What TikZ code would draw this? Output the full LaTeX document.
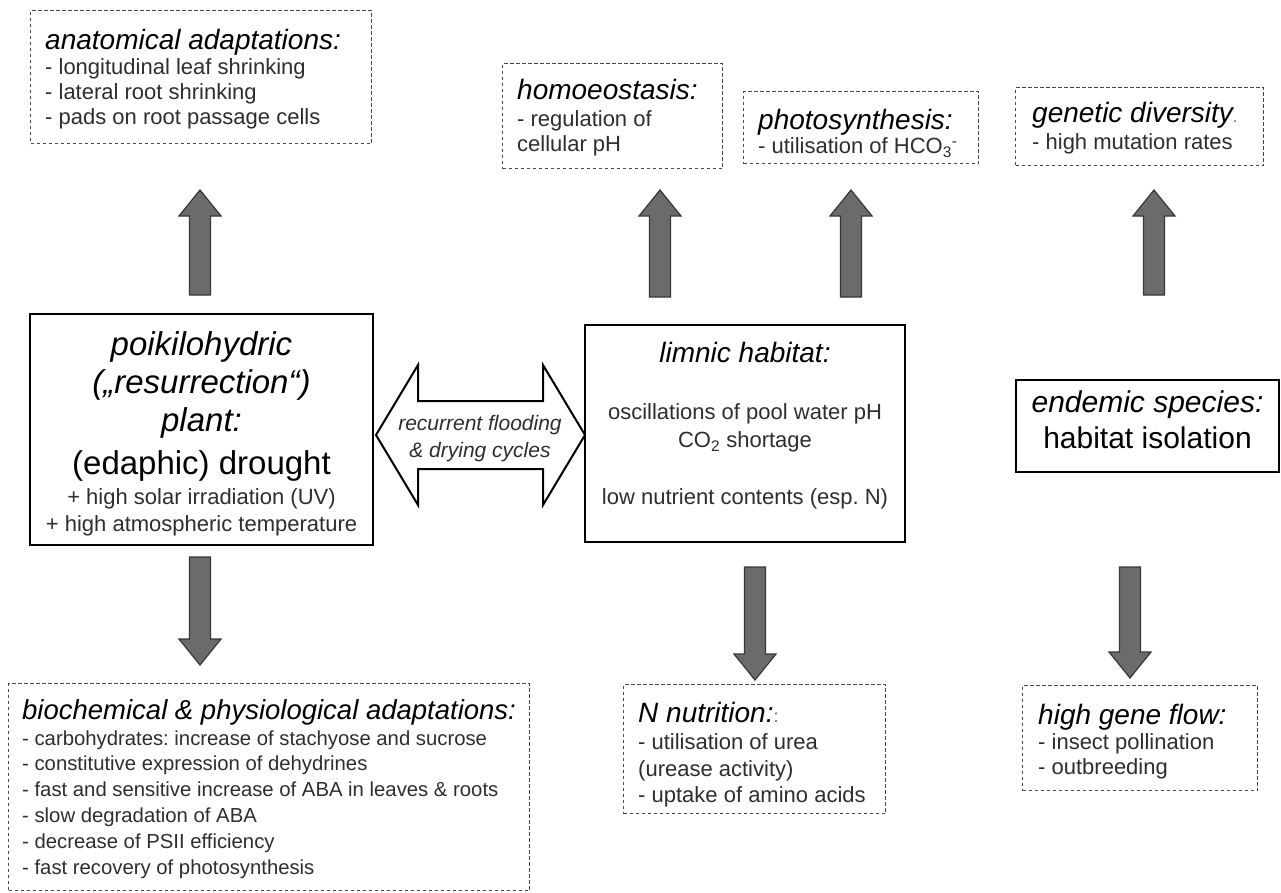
\documentclass[tikz,border=0pt]{standalone}
\usepackage{fontspec}
\setmainfont{Liberation Sans}
\usetikzlibrary{calc}
\setlength{\parindent}{0pt}
\frenchspacing
\newcommand\SP{\frenchspacing\spaceskip=0pt\xspaceskip=0pt\leftskip=0pt\rightskip=0pt plus 1fil\parfillskip=0pt plus 1fil\relax}
\newcommand\SC{\frenchspacing\spaceskip=0pt\xspaceskip=0pt\leftskip=0pt plus 1fil\rightskip=0pt plus 1fil\parfillskip=0pt\relax}
\newcommand\HH{\fontsize{28}{32}\selectfont\itshape\color{black}}
\newcommand\II{\fontsize{22}{25}\selectfont}
\newcommand\blockarr[2]{%
  \path ($(#2)!26pt!(#1)$) coordinate (#1-h);
  \draw[blockarrow] ($(#1)!10.5pt!90:(#2)$) -- ($(#1-h)!10.5pt!90:(#2)$) -- ($(#1-h)!21pt!90:(#2)$) -- (#2) -- ($(#1-h)!21pt!-90:(#2)$) -- ($(#1-h)!10.5pt!-90:(#2)$) -- ($(#1)!10.5pt!-90:(#2)$) -- cycle;}
\tikzset{
  dbox/.style={draw=black!72, line width=1.4pt, dash pattern=on 3.5pt off 2.5pt, inner sep=0pt, anchor=north west},
  sbox/.style={draw=black, line width=2.2pt, inner sep=0pt},
  txt/.style={inner sep=0pt, align=left, anchor=north west, text=black!82},
  ctxt/.style={inner sep=0pt, align=center, anchor=north, text=black!82},
  blockarrow/.style={fill=black!58, draw=black!78, line width=1.2pt, line join=miter},
  darrow/.style={fill=white, draw=black, line width=2pt, line join=miter},
}
\begin{document}
\begin{tikzpicture}[x=1pt,y=-1pt]
\useasboundingbox[fill=white] (0,0) rectangle (1281,892);

% ---------- top boxes ----------
\node[dbox, minimum width=341, minimum height=133] (anat) at (30,10) {};
\node[txt, text width=325] (anattxt) at (45,29.5) {\SP{\HH anatomical adaptations:\par}{\II - longitudinal leaf shrinking\par - lateral root shrinking\par - pads on root passage cells\par}};

\node[dbox, minimum width=220, minimum height=105] (homo) at (502,63) {};
\node[txt, text width=205] (homotxt) at (517,79.5) {\SP{\HH homoeostasis:\par}{\fontsize{22}{27}\selectfont - regulation of\par}{\II cellular pH\par}};

\node[dbox, minimum width=235, minimum height=72] (photo) at (743,91) {};
\node[txt, text width=220] (phototxt) at (758,109.5) {\SP{\HH photosynthesis:\par}{\fontsize{22}{24}\selectfont - utilisation of HCO\textsubscript{3}\textsuperscript{-}\par}};

\node[dbox, minimum width=248, minimum height=78] (genet) at (1015,87) {};
\node[txt, text width=232] (genettxt) at (1032,102.5) {\SP{\HH genetic diversity{\upshape\fontsize{16}{16}\selectfont\color{black!60}.}\par}{\fontsize{22}{27}\selectfont - high mutation rates\par}};

% ---------- middle boxes ----------
\node[sbox, minimum width=343, minimum height=231] (plant) at (201.5,429.5) {};
\node[ctxt, text width=340] (planttxt) at (201.5,331) {\SC{\fontsize{33}{38}\selectfont\itshape\color{black} poikilohydric\par („resurrection“)\par plant:\par}{\fontsize{33}{43}\selectfont\color{black} (edaphic) drought\par}{\fontsize{22}{30}\selectfont + high solar irradiation (UV)\par}{\fontsize{22}{27}\selectfont + high atmospheric temperature\par}};

\node[sbox, minimum width=320, minimum height=217] (limnic) at (745,433.5) {};
\node[ctxt, text width=316] (limnictxt) at (745,342.5) {\SC{\HH limnic habitat:\par}{\fontsize{22}{57}\selectfont oscillations of pool water pH\par}{\fontsize{22}{28}\selectfont CO\textsubscript{2} shortage\par}{\fontsize{22}{57}\selectfont low nutrient contents (esp. N)\par}};

\node[sbox, minimum width=263, minimum height=92] (endemic) at (1147.5,426) {};
\node[ctxt, text width=260] (endemictxt) at (1147.5,391) {\SC{\fontsize{30}{36}\selectfont\itshape\color{black} endemic species:\par}{\fontsize{30}{36}\selectfont\color{black} habitat isolation\par}};

% ---------- double arrow ----------
\coordinate (dl) at (376,435);
\coordinate (dr) at (585,435);
\path ($(dl)!42pt!(dr)$) coordinate (dlh) ($(dr)!42pt!(dl)$) coordinate (drh);
\draw[darrow] (dl) -- ($(dlh)!70pt!90:(dr)$) -- ($(dlh)!34pt!90:(dr)$) -- ($(drh)!34pt!-90:(dl)$) -- ($(drh)!70pt!-90:(dl)$) -- (dr) -- ($(drh)!70pt!90:(dl)$) -- ($(drh)!34pt!90:(dl)$) -- ($(dlh)!34pt!-90:(dr)$) -- ($(dlh)!70pt!-90:(dr)$) -- cycle;
\node[ctxt, text width=170] (cycletxt) at (480,414.7) {\SC\fontsize{21}{27}\selectfont\itshape recurrent flooding\par \& drying cycles\par};

% ---------- bottom boxes ----------
\node[dbox, minimum width=521, minimum height=207] (bio) at (8,683) {};
\node[txt, text width=515] (biotxt) at (22,699) {\SP{\fontsize{27.5}{32}\selectfont\itshape\color{black} biochemical \& physiological adaptations:\par}{\fontsize{20.3}{26}\selectfont - carbohydrates: increase of stachyose and sucrose\par}{\fontsize{20.3}{25.8}\selectfont - constitutive expression of dehydrines\par - fast and sensitive increase of ABA in leaves \& roots\par - slow degradation of ABA\par - decrease of PSII efficiency\par - fast recovery of photosynthesis\par}};

\node[dbox, minimum width=262, minimum height=129] (nnut) at (623,684) {};
\node[txt, text width=245] (nnuttxt) at (638,701.5) {\SP{\HH N nutrition:{\upshape\fontsize{18}{18}\selectfont\color{black!60}:}\par}{\fontsize{22}{27}\selectfont - utilisation of urea\par}{\fontsize{22}{27}\selectfont (urease activity)\par}{\fontsize{22}{26}\selectfont - uptake of amino acids\par}};

\node[dbox, minimum width=235, minimum height=105] (gene) at (1022,685) {};
\node[txt, text width=218] (genetxt) at (1038,703.5) {\SP{\HH high gene flow:\par}{\II - insect pollination\par - outbreeding\par}};

% ---------- block arrows ----------
\coordinate (u1s) at (200,295);  \coordinate (u1e) at (200,190);
\coordinate (u2s) at (660,297);  \coordinate (u2e) at (660,190);
\coordinate (u3s) at (851,297);  \coordinate (u3e) at (851,190);
\coordinate (u4s) at (1154,295); \coordinate (u4e) at (1154,190);
\coordinate (d1s) at (200,557);  \coordinate (d1e) at (200,665);
\coordinate (d2s) at (755,567);  \coordinate (d2e) at (755,680);
\coordinate (d3s) at (1130,567); \coordinate (d3e) at (1130,678);
\blockarr{u1s}{u1e}
\blockarr{u2s}{u2e}
\blockarr{u3s}{u3e}
\blockarr{u4s}{u4e}
\blockarr{d1s}{d1e}
\blockarr{d2s}{d2e}
\blockarr{d3s}{d3e}
\end{tikzpicture}
\end{document}
